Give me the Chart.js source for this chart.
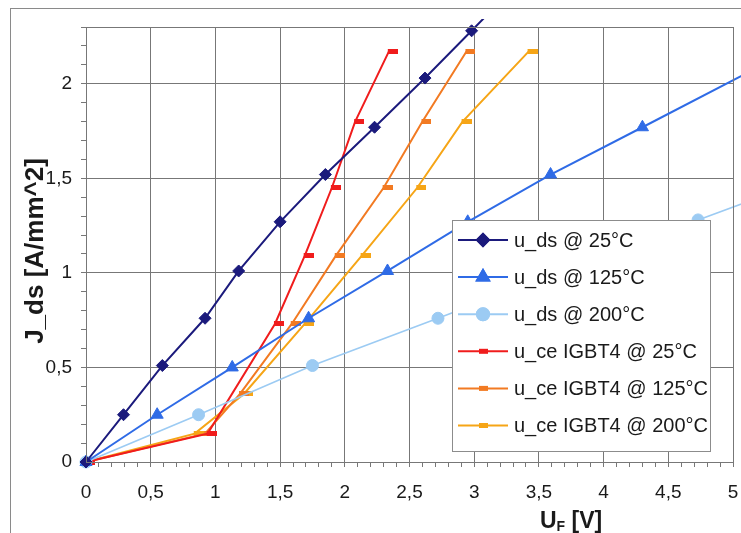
<!DOCTYPE html>
<html lang="de">
<head>
  <meta charset="UTF-8">
  <title>J_ds vs U_F</title>
  <style>
    body { margin: 0; background: #fff; }
    #wrap { width: 741px; height: 533px; }
  </style>
  <script src="https://cdn.jsdelivr.net/npm/chart.js"></script>
</head>
<body>
  <div id="wrap"><canvas id="chart" width="741" height="533"></canvas></div>
  <script>
    // values (x = U_F in V, y = J_ds in A/mm^2)
    const labels = ['u_ds @ 25°C', 'u_ds @ 125°C', 'u_ds @ 200°C',
                    'u_ce IGBT4 @ 25°C', 'u_ce IGBT4 @ 125°C', 'u_ce IGBT4 @ 200°C'];

    const uds25x  = [0, 0.29, 0.59, 0.92, 1.18, 1.50, 1.85, 2.23, 2.62, 2.98, 3.35];
    const uds25y  = [0, 0.25, 0.51, 0.76, 1.01, 1.27, 1.52, 1.77, 2.03, 2.28, 2.54];
    const uds125x = [0, 0.55, 1.13, 1.72, 2.33, 2.95, 3.59, 4.30, 5.20];
    const uds125y = [0, 0.25, 0.50, 0.76, 1.01, 1.27, 1.52, 1.77, 2.09];
    const uds200x = [0, 0.87, 1.75, 2.72, 3.72, 4.73, 5.76];
    const uds200y = [0, 0.25, 0.51, 0.76, 1.02, 1.28, 1.54];

    const igbtY     = [0, 0.15, 0.73, 1.09, 1.45, 1.80, 2.17];
    const igbt25x   = [0, 0.94, 1.46, 1.69, 1.90, 2.08, 2.34];
    const igbtY2    = [0, 0.15, 0.36, 0.73, 1.09, 1.45, 1.80, 2.17];
    const igbt125x  = [0, 0.92, 1.19, 1.59, 1.93, 2.30, 2.60, 2.94];
    const igbt200x  = [0, 0.84, 1.22, 1.69, 2.13, 2.56, 2.91, 3.42];

    const xTicks = [0, 0.5, 1, 1.5, 2, 2.5, 3, 3.5, 4, 4.5, 5];
    const yTicks = [0, 0.5, 1, 1.5, 2];

    const colors = ['#1b1a7c', '#2f6be6', '#9ccbf3', '#f01c1c', '#f27a22', '#f6a516'];

    function pts(xs, ys) { return xs.map((x, i) => ({ x, y: ys[i] })); }

    function dashMarker(color) {
      const c = document.createElement('canvas');
      c.width = 18; c.height = 5;
      const g = c.getContext('2d');
      g.fillStyle = color;
      g.fillRect(8, 0, 10, 5);
      return c;
    }

    const isMajor = (v, list) => list.some(t => Math.abs(t - v) < 1e-6);
    const fmt = v => String(Math.round(v * 10) / 10).replace('.', ',');

    function ds(i, data, style, radius, width) {
      return {
        label: labels[i], data,
        borderColor: colors[i], backgroundColor: colors[i],
        pointBackgroundColor: colors[i], pointBorderColor: colors[i],
        pointStyle: style, pointRadius: radius, pointBorderWidth: 1,
        borderWidth: width, tension: 0,
        clip: { left: 10, top: 8, right: 10, bottom: 10 }
      };
    }

    const datasets = [
      ds(0, pts(uds25x, uds25y), 'rectRot', 6, 2),
      ds(1, pts(uds125x, uds125y), 'triangle', 7, 2),
      ds(2, pts(uds200x, uds200y), 'circle', 6, 1.6),
      ds(3, pts(igbt25x, igbtY), dashMarker(colors[3]), 5, 2),
      ds(4, pts(igbt125x, igbtY2), dashMarker(colors[4]), 5, 2),
      ds(5, pts(igbt200x, igbtY2), dashMarker(colors[5]), 5, 2)
    ];

    const decor = {
      id: 'decor',
      beforeDraw(chart) {
        const ctx = chart.ctx;
        ctx.save();
        ctx.strokeStyle = '#8a8a8a';
        ctx.lineWidth = 1;
        ctx.strokeRect(10.5, 8.5, 900, 700);
        ctx.restore();
      },
      afterDraw(chart) {
        const ctx = chart.ctx;
        const a = chart.chartArea;
        ctx.save();
        // plot frame
        ctx.strokeStyle = '#777';
        ctx.lineWidth = 1;
        ctx.strokeRect(Math.round(a.left) + 0.5, Math.round(a.top) + 0.5,
                       Math.round(a.right - a.left), Math.round(a.bottom - a.top));

        // legend box
        const lx = 452, ly = 220, lw = 258, lh = 231;
        ctx.fillStyle = '#fff';
        ctx.fillRect(lx, ly, lw, lh);
        ctx.strokeStyle = '#8c8c8c';
        ctx.strokeRect(lx + 0.5, ly + 0.5, lw, lh);
        ctx.font = '20px "Liberation Sans", Arial, sans-serif';
        ctx.textBaseline = 'middle';
        chart.data.datasets.forEach((d, i) => {
          const y = 240 + i * 37.1;
          ctx.strokeStyle = d.borderColor;
          ctx.lineWidth = 2;
          ctx.beginPath();
          ctx.moveTo(458, y);
          ctx.lineTo(508, y);
          ctx.stroke();
          ctx.fillStyle = d.borderColor;
          if (i < 3) {
            Chart.helpers.drawPoint(ctx, {
              pointStyle: d.pointStyle, radius: d.pointRadius, rotation: 0, borderWidth: 1
            }, 483, y);
            ctx.fill();
            ctx.stroke();
          } else {
            ctx.fillRect(479, y - 2.5, 9, 5);
          }
          ctx.fillStyle = '#1a1a1a';
          ctx.textAlign = 'left';
          ctx.fillText(d.label, 514, y + 1);
        });

        // axis titles
        ctx.fillStyle = '#1a1a1a';
        ctx.textBaseline = 'alphabetic';
        ctx.font = 'bold 23px "Liberation Sans", Arial, sans-serif';
        ctx.fillText('U', 540, 528);
        const uw = ctx.measureText('U').width;
        ctx.font = 'bold 14px "Liberation Sans", Arial, sans-serif';
        ctx.fillText('F', 540 + uw, 531);
        const fw = ctx.measureText('F').width;
        ctx.font = 'bold 23px "Liberation Sans", Arial, sans-serif';
        ctx.fillText(' [V]', 540 + uw + fw, 528);

        ctx.translate(43, 251);
        ctx.rotate(-Math.PI / 2);
        ctx.textAlign = 'center';
        ctx.font = 'bold 26px "Liberation Sans", Arial, sans-serif';
        ctx.fillText('J_ds [A/mm^2]', 0, 0);
        ctx.restore();
      }
    };

    new Chart(document.getElementById('chart'), {
      type: 'line',
      data: { datasets },
      options: {
        responsive: false,
        devicePixelRatio: 1,
        animation: false,
        layout: { padding: { left: 0, top: 27, right: 8, bottom: 0 } },
        plugins: { legend: { display: false }, tooltip: { enabled: false } },
        scales: {
          x: {
            type: 'linear', min: 0, max: 5,
            afterFit(s) { s.height = 71; s.paddingLeft = 0; s.paddingRight = 0; },
            ticks: {
              stepSize: 0.1, autoSkip: false, maxRotation: 0, padding: 14,
              color: '#1a1a1a',
              font: { family: '"Liberation Sans", Arial, sans-serif', size: 19 },
              callback: v => isMajor(v, xTicks) ? fmt(v) : ''
            },
            grid: {
              color: c => isMajor(c.tick.value, xTicks) ? '#777' : 'rgba(0,0,0,0)',
              tickColor: '#777', tickLength: 5, lineWidth: 1
            },
            border: { color: '#777' }
          },
          y: {
            type: 'linear', min: 0, max: 2.3,
            afterFit(s) { s.width = 86; s.paddingTop = 0; s.paddingBottom = 0; },
            ticks: {
              stepSize: 0.1, autoSkip: false, padding: 9,
              color: '#1a1a1a',
              font: { family: '"Liberation Sans", Arial, sans-serif', size: 19 },
              callback: v => isMajor(v, yTicks) ? fmt(v) : ''
            },
            grid: {
              color: c => isMajor(c.tick.value, yTicks) ? '#777' : 'rgba(0,0,0,0)',
              tickColor: '#777', tickLength: 5, lineWidth: 1
            },
            border: { color: '#777' }
          }
        }
      },
      plugins: [decor]
    });
  </script>
</body>
</html>
